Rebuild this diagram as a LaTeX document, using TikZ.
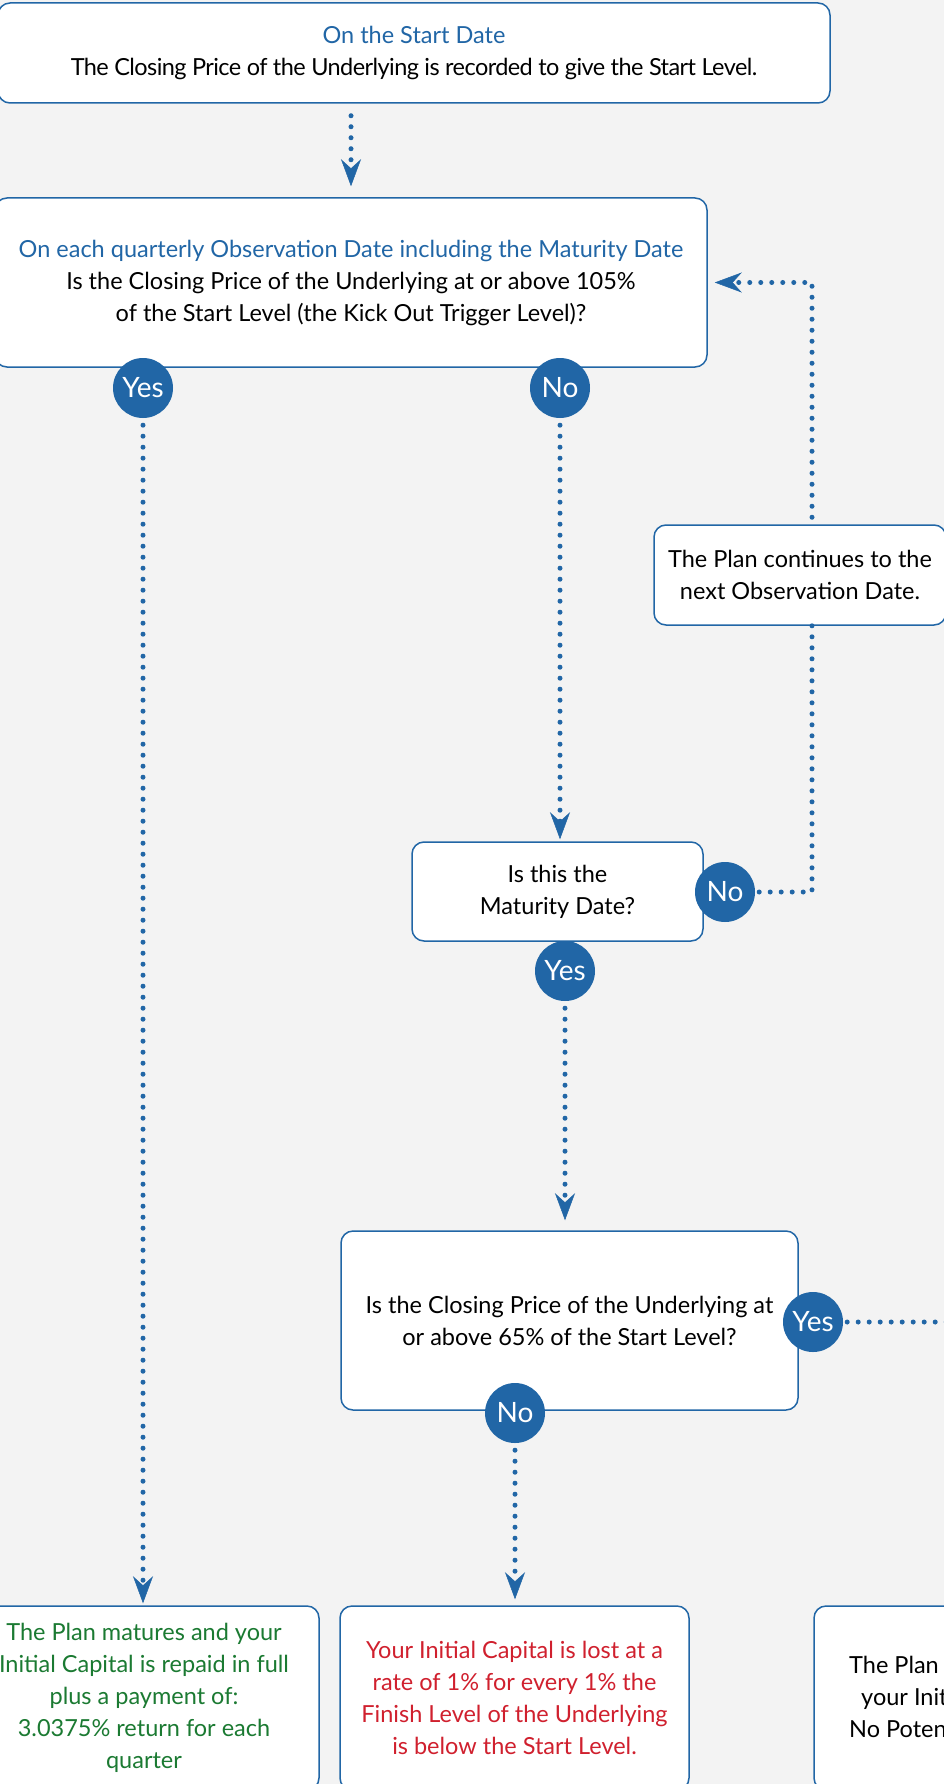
\documentclass[tikz,border=0pt]{standalone}
\usepackage{fontspec}
\setmainfont{Lato}
\usepackage{xcolor}
\usepackage{tikz}
\usetikzlibrary{arrows.meta, calc, positioning}

\definecolor{planblue}{HTML}{2166A6}
\definecolor{planbg}{HTML}{F3F3F3}
\definecolor{plangreen}{HTML}{1B7A32}
\definecolor{planred}{HTML}{D0202E}

\begin{document}
\begin{tikzpicture}[x=1pt, y=-1pt,
    box/.style={draw=planblue, line width=1.5pt, fill=white, rounded corners=12pt,
        align=center, inner sep=0pt, font=\fontsize{23.5}{32}\selectfont},
    ans/.style={circle, fill=planblue, minimum size=60pt, inner sep=0pt,
        text=white, font=\fontsize{28}{28}\selectfont},
    flow/.style={draw=planblue, line width=5pt, line cap=round,
        dash pattern=on 0pt off 11pt},
    >={Stealth[length=27pt, width=20pt, inset=9pt, line width=0.5pt]}]
    \fill[planbg] (0,0) rectangle (944,1784);
    \useasboundingbox (0,0) rectangle (944,1784);

    % Start
    \node [box, minimum width=832pt, minimum height=100pt] (start) at (414,53)
        {{\color{planblue}On the Start Date}\\
         {\addfontfeature{LetterSpace=-2.4}The Closing Price of the Underlying is recorded to give the Start Level.}};

    % Observation
    \node [box, minimum width=712pt, minimum height=169pt] (obs) at (351,282.5)
        {{\color{planblue}On each quarterly Observation Date including the Maturity Date}\\
         Is the Closing Price of the Underlying at or above 105\%\\
         of the Start Level (the Kick Out Trigger Level)?};
    \node [box, minimum width=292pt, minimum height=100pt] (cont) at (800,575)
        {The Plan continues to the\\next Observation Date.};
    \node [box, minimum width=291pt, minimum height=99pt] (mat) at (557.5,891.5)
        {Is this the\\Maturity Date?};
    \node [box, minimum width=457pt, minimum height=179pt] (level) at (569.5,1320.5)
        {Is the Closing Price of the Underlying at\\or above 65\% of the Start Level?};

    % Outcomes
    \node [box, minimum width=350pt, minimum height=184pt, text=plangreen] (repaid) at (144,1698)
        {The Plan matures and your\\Initial Capital is repaid in full\\plus a payment of:\\
         3.0375\% return for each\\quarter};
    \node [box, minimum width=349pt, minimum height=184pt, text=planred] (lost) at (514.5,1698)
        {Your Initial Capital is lost at a\\rate of 1\% for every 1\% the\\
         Finish Level of the Underlying\\is below the Start Level.};
    \node [box, minimum width=349pt, minimum height=184pt] (back) at (988.5,1698) {};
    \node [align=left, anchor=west, inner sep=0pt, font=\fontsize{23.5}{32}\selectfont] (backtext) at (849,1697)
        {The Plan\\\hspace*{12pt}your Init\\No Poten};

    % Yes / No
    \node [ans] (yes1) at (143,388) {Yes};
    \node [ans] (no1) at (560,388) {No};
    \node [ans] (no2) at (725,892) {No};
    \node [ans] (yes2) at (565,971) {Yes};
    \node [ans] (yes3) at (813,1322) {Yes};
    \node [ans] (no3) at (515,1413) {No};
    \coordinate (yesout) at (950,1322);

    % Connections
    \draw [flow, ->, shorten <=12pt, shorten >=11pt] (obs.north |- start.south) -- (obs.north);
    \draw [flow, ->, shorten <=7pt, shorten >=2pt] (yes1.south) -- (yes1 |- repaid.north);
    \draw [flow, ->, shorten <=7pt, shorten >=2pt] (no1.south) -- (no1 |- mat.north);
    \draw [flow, shorten <=4pt] (no2.east) -| ([xshift=12pt]cont.south);
    \draw [flow, ->, shorten <=7pt, shorten >=7pt] ([xshift=12pt]cont.north) |- (obs.east);
    \draw [flow, ->, shorten <=7pt, shorten >=10pt] (yes2.south) -- (yes2 |- level.north);
    \draw [flow, shorten <=4pt] (yes3.east) -- (yesout);
    \draw [flow, ->, shorten <=7pt, shorten >=6pt] (no3.south) -- (no3 |- lost.north);

\end{tikzpicture}
\end{document}
